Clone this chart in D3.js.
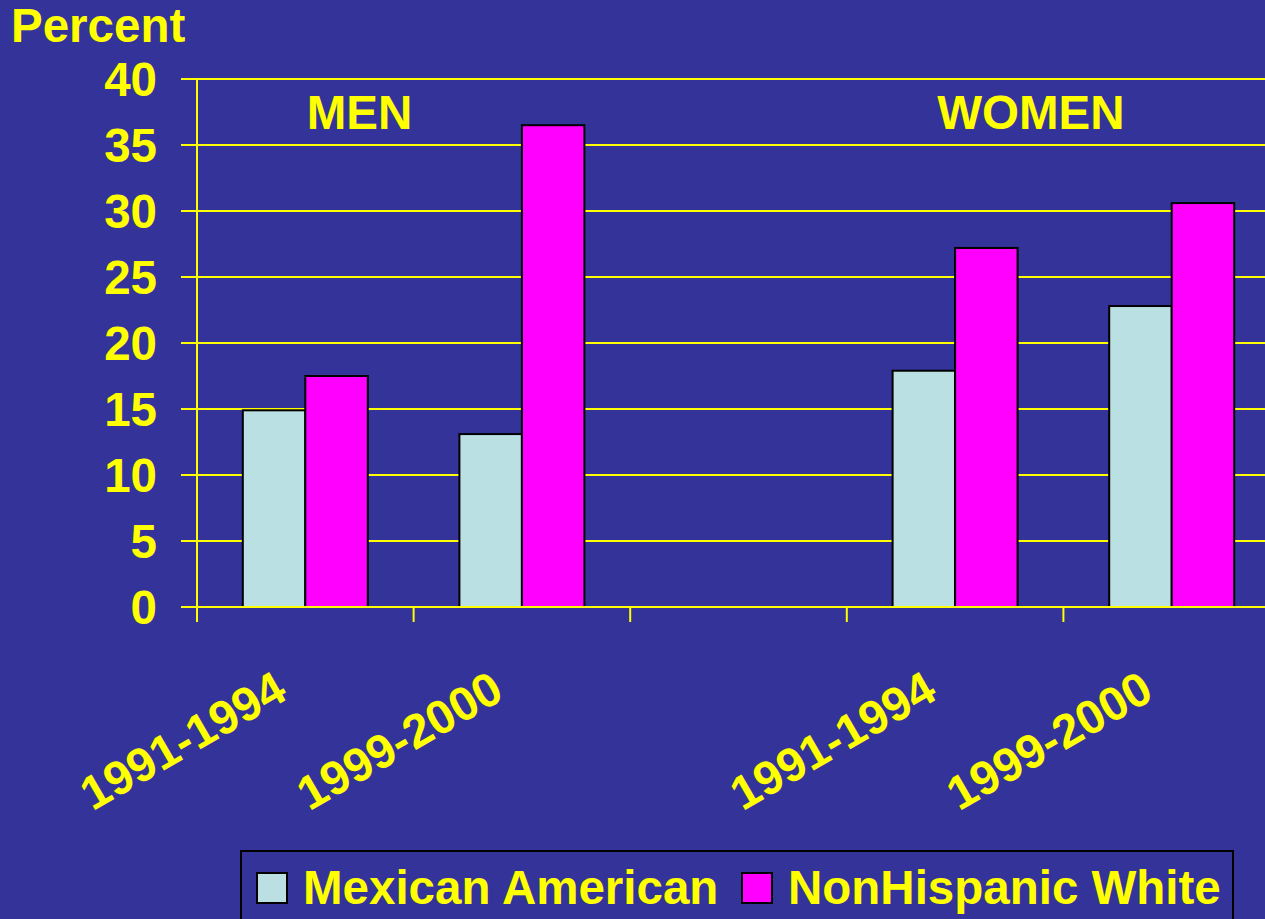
<!DOCTYPE html>
<html>
<head>
<meta charset="utf-8">
<script src="https://cdn.jsdelivr.net/npm/d3@7"></script>
<style>
  html, body { margin: 0; padding: 0; background: #333399; overflow: hidden; }
  svg { display: block; }
  text { font-family: "Liberation Sans", Arial, sans-serif; font-weight: bold; fill: #FFFF00; }
</style>
</head>
<body>
<svg id="chart" width="1265" height="919"></svg>
<script>
// ---- data ----
const slots = ["1991-1994", "1999-2000", "", "1991-1994", "1999-2000"];
const series = ["Mexican American", "NonHispanic White"];
const mexicanAmerican = [14.9, 13.1, null, 17.9, 22.8];
const nonHispanicWhite = [17.5, 36.5, null, 27.2, 30.6];
const yTicks = [0, 5, 10, 15, 20, 25, 30, 35, 40];
const groupLabels = ["MEN", "WOMEN"];
const groupLabelSlots = [0.75, 3.85];
const colors = ["#BBE0E3", "#FF00FF"];

const svg = d3.select("#chart");
const W = 1265, H = 919;
const mLeft = 197, mRight = 1280, mTop = 79, mBottom = 607;
const yellow = "#FFFF00";
const FS = 47.5;

const idx = slots.map((d, i) => i);
const x = d3.scaleBand().domain(idx).range([mLeft, mRight]).padding(0);
const xs = d3.scaleBand().domain(series).range([0, x.bandwidth()]).paddingInner(0).paddingOuter(0.733);
const y = d3.scaleLinear().domain([0, 40]).range([mBottom, mTop]);

// gridlines
svg.append("g").selectAll("line").data(yTicks.filter(d => d > 0)).join("line")
  .attr("x1", mLeft - 16).attr("x2", W + 20)
  .attr("y1", d => y(d)).attr("y2", d => y(d))
  .attr("stroke", yellow).attr("stroke-width", 2);

// bars
const seriesData = [mexicanAmerican, nonHispanicWhite];
const barG = svg.append("g");
series.forEach((s, si) => {
  barG.selectAll(null).data(seriesData[si].map((v, i) => ({ v, i })).filter(d => d.v != null)).join("rect")
    .attr("x", d => x(d.i) + xs(s))
    .attr("y", d => y(d.v))
    .attr("width", xs.bandwidth())
    .attr("height", d => y(0) - y(d.v))
    .attr("fill", colors[si])
    .attr("stroke", "#000")
    .attr("stroke-width", 2);
});

// axis lines
svg.append("line").attr("x1", mLeft).attr("x2", W + 20).attr("y1", y(0)).attr("y2", y(0))
  .attr("stroke", yellow).attr("stroke-width", 2);
svg.append("line").attr("x1", mLeft - 16).attr("x2", mLeft).attr("y1", y(0)).attr("y2", y(0))
  .attr("stroke", yellow).attr("stroke-width", 2);
svg.append("line").attr("x1", mLeft).attr("x2", mLeft).attr("y1", y(40)).attr("y2", y(0) + 15)
  .attr("stroke", yellow).attr("stroke-width", 2);

// x ticks at slot boundaries
svg.append("g").selectAll("line").data(idx.slice(1)).join("line")
  .attr("x1", d => x(d)).attr("x2", d => x(d))
  .attr("y1", y(0)).attr("y2", y(0) + 15)
  .attr("stroke", yellow).attr("stroke-width", 2);

// y tick labels
svg.append("g").selectAll("text").data(yTicks).join("text")
  .attr("x", 157).attr("y", d => y(d))
  .attr("dy", "0.36em")
  .attr("text-anchor", "end")
  .attr("font-size", FS)
  .text(d => d);

// x labels
svg.append("g").selectAll("text").data(idx.filter(i => slots[i] !== "")).join("text")
  .attr("transform", i => `translate(${x(i) + x.bandwidth() / 2 - 16},${y(0) + 91}) rotate(-30)`)
  .attr("text-anchor", "end")
  .attr("font-size", FS)
  .text(i => slots[i]);

// group labels
svg.append("g").selectAll("text").data(groupLabels).join("text")
  .attr("x", (d, i) => x(0) + groupLabelSlots[i] * x.step())
  .attr("y", 129)
  .attr("text-anchor", "middle")
  .attr("font-size", FS)
  .text(d => d);

// y title
svg.append("text").attr("x", 11).attr("y", 42).attr("font-size", FS).text("Percent");

// legend
const lg = svg.append("g");
lg.append("rect").attr("x", 241).attr("y", 851).attr("width", 992).attr("height", 90)
  .attr("fill", "#333399").attr("stroke", "#000").attr("stroke-width", 2);
const legendX = [257, 742];
series.forEach((s, i) => {
  lg.append("rect").attr("x", legendX[i]).attr("y", 873).attr("width", 30).attr("height", 30)
    .attr("fill", colors[i]).attr("stroke", "#000").attr("stroke-width", 2);
  lg.append("text").attr("x", legendX[i] + 46).attr("y", 904).attr("font-size", FS).text(s);
});
</script>
</body>
</html>
